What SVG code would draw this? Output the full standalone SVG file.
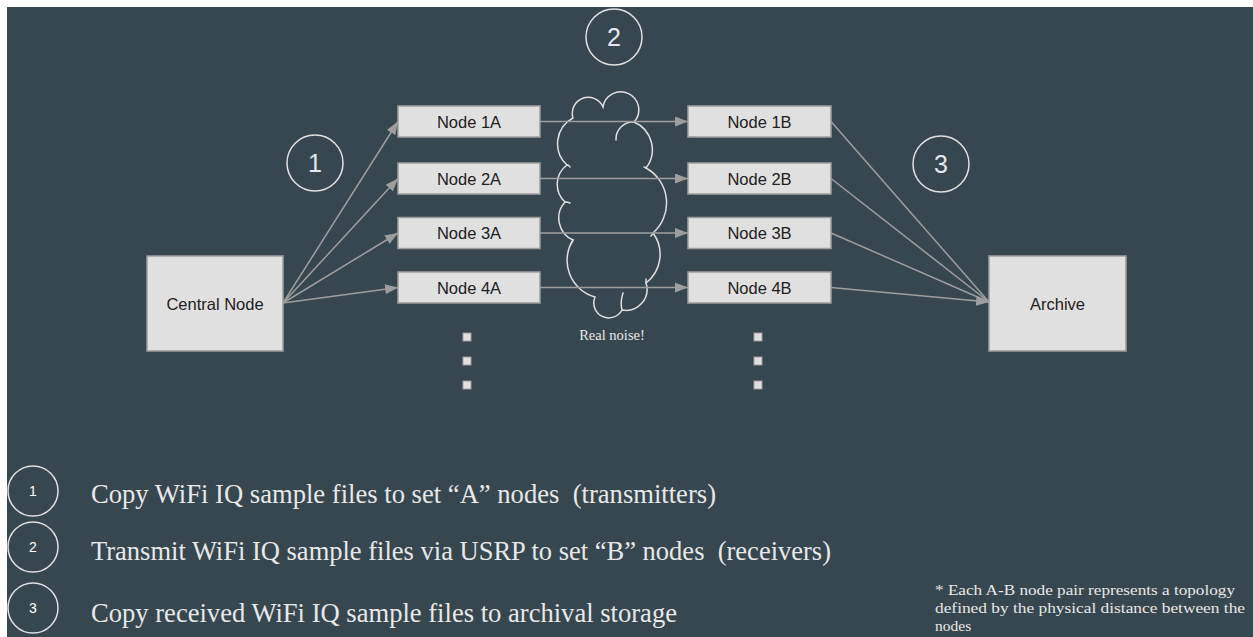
<svg xmlns="http://www.w3.org/2000/svg" width="1253" height="637" viewBox="0 0 1253 637">
<defs>
<style>
.box{fill:#e0e0e0;stroke:#9e9e9e;stroke-width:1.5}
.lbl{font-family:"Liberation Sans",Arial,sans-serif;font-size:16.5px;fill:#212121;text-anchor:middle}
.step{fill:none;stroke:#e0e0e0;stroke-width:1.5}
.stepnum{font-family:"Liberation Sans",Arial,sans-serif;font-size:25px;fill:#e3e8f0;text-anchor:middle}
.legnum{font-family:"Liberation Sans",Arial,sans-serif;font-size:14px;fill:#ffffff;text-anchor:middle}
.conn{fill:none;stroke:#9e9e9e;stroke-width:1.5}
.cloud{fill:none;stroke:#e0e0e0;stroke-width:1.5;stroke-linecap:round}
.serif{font-family:"Liberation Serif","Times New Roman",serif;fill:#e8e8e8}
.dot{fill:#e0e0e0;stroke:#9e9e9e;stroke-width:1}
</style>
<marker id="arr" markerUnits="userSpaceOnUse" markerWidth="14" markerHeight="10" refX="13" refY="5" orient="auto">
<path d="M0,0 L13,5 L0,10 Z" fill="#9e9e9e"/>
</marker>
</defs>
<rect x="0" y="0" width="1253" height="637" fill="#ffffff"/>
<rect x="7" y="7" width="1246" height="630" fill="#37474f"/>

<g id="cloud">
<path class="cloud" d="M573,118 A16 16 0 0 1 603,107 A18 18 0 1 1 634,122 A30 30 0 0 1 646,168 A40 40 0 0 1 653,233 A36 36 0 0 1 646,283 A21 21 0 0 1 622,310 A15 15 0 0 1 595,297 A38 38 0 0 1 573,240 A24 24 0 0 1 565,202 A24 24 0 0 1 567,165 A29 29 0 0 1 573,118 Z"/>
<path class="cloud" d="M616,140 A17 17 0 0 1 634,122"/>
<path class="cloud" d="M623,293 Q620,302 622,310"/>
<path class="cloud" d="M567,165 q2,0 3,2 M565,202 q3,0 5,1 M573,240 q-1,2 -2,4 M646,168 q-1,-1 -2,-1 M653,233 q-1,2 -2,3 M646,283 q0,-2 0,-4"/>
</g>

<g id="connectors">
<path class="conn" marker-end="url(#arr)" d="M283,303 L398,121.5"/>
<path class="conn" marker-end="url(#arr)" d="M283,303 L398,178.5"/>
<path class="conn" marker-end="url(#arr)" d="M283,303 L398,233"/>
<path class="conn" marker-end="url(#arr)" d="M283,303 L398,287.5"/>
<path class="conn" marker-end="url(#arr)" d="M540,121.5 L688,121.5"/>
<path class="conn" marker-end="url(#arr)" d="M540,178.5 L688,178.5"/>
<path class="conn" marker-end="url(#arr)" d="M540,233 L688,233"/>
<path class="conn" marker-end="url(#arr)" d="M540,287.5 L688,287.5"/>
<path class="conn" d="M831,121.5 L989,302"/>
<path class="conn" d="M831,178.5 L989,302"/>
<path class="conn" d="M831,233 L989,302"/>
<path class="conn" marker-end="url(#arr)" d="M831,287.5 L989,302"/>
</g>

<g id="central">
<rect class="box" x="147" y="256" width="136" height="95"/>
<text class="lbl" x="215" y="309.5">Central Node</text>
</g>
<g id="node1a"><rect class="box" x="398" y="106" width="142" height="31"/><text class="lbl" x="469" y="127.5">Node 1A</text></g>
<g id="node2a"><rect class="box" x="398" y="163" width="142" height="31"/><text class="lbl" x="469" y="184.5">Node 2A</text></g>
<g id="node3a"><rect class="box" x="398" y="217.5" width="142" height="31"/><text class="lbl" x="469" y="239">Node 3A</text></g>
<g id="node4a"><rect class="box" x="398" y="272" width="142" height="31"/><text class="lbl" x="469" y="293.5">Node 4A</text></g>
<g id="node1b"><rect class="box" x="688" y="106" width="143" height="31"/><text class="lbl" x="759.5" y="127.5">Node 1B</text></g>
<g id="node2b"><rect class="box" x="688" y="163" width="143" height="31"/><text class="lbl" x="759.5" y="184.5">Node 2B</text></g>
<g id="node3b"><rect class="box" x="688" y="217.5" width="143" height="31"/><text class="lbl" x="759.5" y="239">Node 3B</text></g>
<g id="node4b"><rect class="box" x="688" y="272" width="143" height="31"/><text class="lbl" x="759.5" y="293.5">Node 4B</text></g>
<g id="archive">
<rect class="box" x="989" y="256" width="137" height="95"/>
<text class="lbl" x="1057.5" y="309.5">Archive</text>
</g>

<g id="step1"><circle class="step" cx="315" cy="163" r="28"/><text class="stepnum" x="315" y="172">1</text></g>
<g id="step2"><circle class="step" cx="614" cy="37" r="28"/><text class="stepnum" x="614" y="46">2</text></g>
<g id="step3"><circle class="step" cx="941" cy="164" r="28"/><text class="stepnum" x="941" y="173">3</text></g>

<g id="dots">
<rect class="dot" x="463" y="333" width="8" height="8"/>
<rect class="dot" x="463" y="357" width="8" height="8"/>
<rect class="dot" x="463" y="381" width="8" height="8"/>
<rect class="dot" x="754" y="333" width="8" height="8"/>
<rect class="dot" x="754" y="357" width="8" height="8"/>
<rect class="dot" x="754" y="381" width="8" height="8"/>
</g>

<text class="serif" x="612" y="339.5" font-size="14.5" text-anchor="middle">Real noise!</text>

<g id="legend">
<circle class="step" cx="33" cy="491" r="25"/><text class="legnum" x="33" y="496">1</text>
<circle class="step" cx="33" cy="547" r="25"/><text class="legnum" x="33" y="552">2</text>
<circle class="step" cx="33" cy="608" r="25"/><text class="legnum" x="33" y="613">3</text>
<text class="serif" x="91" y="503" font-size="28" textLength="625" lengthAdjust="spacingAndGlyphs" xml:space="preserve">Copy WiFi IQ sample files to set “A” nodes  (transmitters)</text>
<text class="serif" x="91" y="560" font-size="28" textLength="740" lengthAdjust="spacingAndGlyphs" xml:space="preserve">Transmit WiFi IQ sample files via USRP to set “B” nodes  (receivers)</text>
<text class="serif" x="91" y="622" font-size="28" textLength="586" lengthAdjust="spacingAndGlyphs">Copy received WiFi IQ sample files to archival storage</text>
</g>

<g id="footnote">
<text class="serif" x="935" y="595" font-size="15.5" textLength="300" lengthAdjust="spacingAndGlyphs">* Each A-B node pair represents a topology</text>
<text class="serif" x="935" y="613" font-size="15.5" textLength="310" lengthAdjust="spacingAndGlyphs">defined by the physical distance between the</text>
<text class="serif" x="935" y="631" font-size="15.5">nodes</text>
</g>
</svg>
